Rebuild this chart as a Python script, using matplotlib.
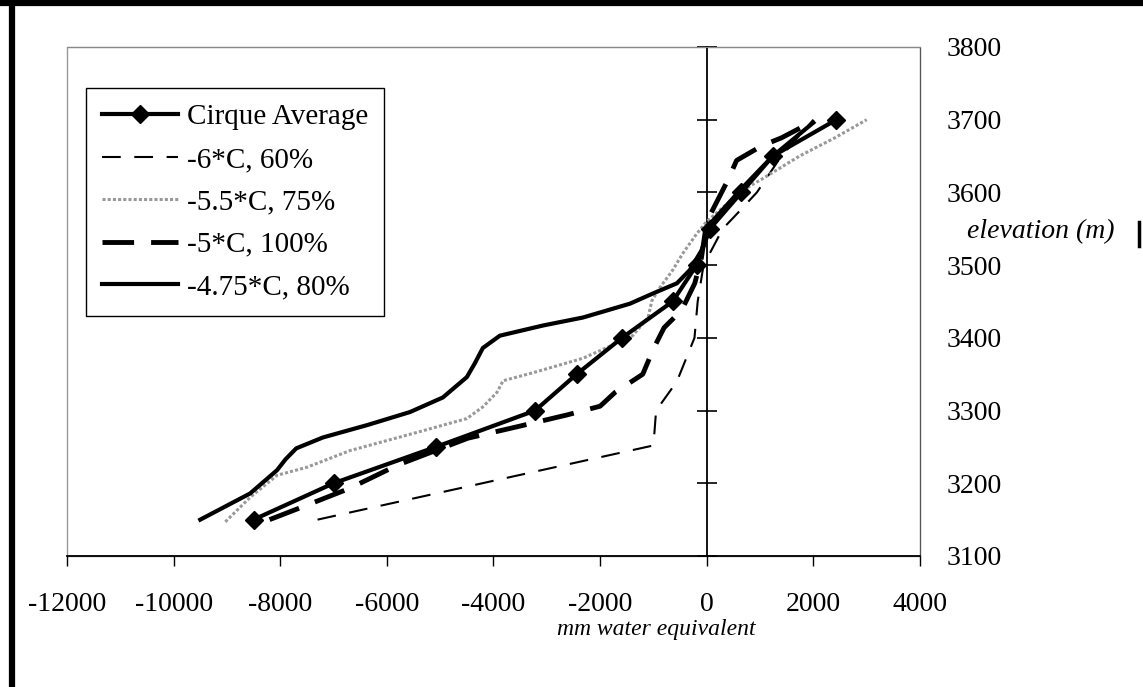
import matplotlib.pyplot as plt
from matplotlib.lines import Line2D

plt.rcParams['font.family'] = ['Liberation Serif', 'DejaVu Serif']

# Cirque average (elevation bands every 50 m)
cirque_y = [3150, 3200, 3250, 3300, 3350, 3400, 3450, 3500, 3550, 3600, 3650, 3700]
cirque_x = [-8500, -7000, -5080, -3220, -2440, -1590, -640, -190, 60, 650, 1240, 2430]

# -6*C, 60%
m6_x = [-7300, -1000, -950, -560, -450, -230, -170, -60, 300, 560, 940, 1400, 2000]
m6_y = [3150, 3252, 3300, 3340, 3360, 3400, 3450, 3500, 3550, 3570, 3600, 3650, 3700]

# -5.5*C, 75%
m55_x = [-9030, -8560, -8060, -7500, -6690, -5435, -4500, -4200, -3935, -3820, -3260,
         -2320, -1800, -1390, -1100, -1030, -880, -640, -450, -190, 0, 675, 1050, 1740,
         2400, 3000]
m55_y = [3147, 3181, 3211, 3222, 3245, 3270, 3289, 3305, 3325, 3341, 3352,
         3372, 3389, 3403, 3428, 3451, 3469, 3493, 3516, 3543, 3560, 3603, 3619, 3650,
         3675, 3700]

# -5*C, 100%
m5_x = [-8200, -7600, -6700, -5800, -4480, -3540, -2620, -2000, -1720, -1200, -1000,
        -800, -470, -225, -100, 0, 390, 560, 1030, 1400, 2000]
m5_y = [3150, 3167, 3193, 3225, 3262, 3278, 3294, 3306, 3325, 3350, 3385,
        3414, 3438, 3475, 3510, 3560, 3616, 3644, 3664, 3675, 3698]

# -4.75*C, 80%
m475_x = [-9500, -8565, -8060, -7900, -7700, -7200, -6370, -5565, -4950, -4500, -4350,
          -4200, -3880, -3070, -2320, -1440, -1010, -560, -320, -100, 100, 650, 1240, 2000]
m475_y = [3150, 3186, 3218, 3233, 3248, 3263, 3280, 3298, 3318, 3346, 3365,
          3386, 3403, 3417, 3428, 3447, 3461, 3475, 3493, 3520, 3560, 3605, 3650, 3696]

x_ticks = [-12000, -10000, -8000, -6000, -4000, -2000, 0, 2000, 4000]
y_ticks = [3100, 3200, 3300, 3400, 3500, 3600, 3700, 3800]

fig = plt.figure(figsize=(11.43, 6.87), dpi=100)
ax = fig.add_axes([0.0586, 0.1907, 0.7463, 0.7409])

l1, = ax.plot(cirque_x, cirque_y, color="black", linewidth=3, marker="D",
              markersize=9, zorder=6, label="Cirque Average")
l2, = ax.plot(m6_x, m6_y, color="black", linewidth=1.5, dashes=(9, 6.5),
              zorder=3, label="-6*C, 60%")
l3, = ax.plot(m55_x, m55_y, color="#999999", linewidth=2.2, linestyle=(0, (1, 0.7)),
              zorder=3, label="-5.5*C, 75%")
l4, = ax.plot(m5_x, m5_y, color="black", linewidth=3.5, dashes=(6.5, 3.5),
              zorder=4, label="-5*C, 100%")
l5, = ax.plot(m475_x, m475_y, color="black", linewidth=3, zorder=4,
              label="-4.75*C, 80%")

ax.set_xlim(-12000, 4000)
ax.set_ylim(3100, 3800)
ax.set_xticks(x_ticks)
ax.set_yticks(y_ticks)
ax.set_xticklabels([str(v) for v in x_ticks])

# vertical axis crosses at x = 0, labels on the right
ax.spines['left'].set_position(('data', 0))
ax.spines['left'].set_color("black")
ax.spines['left'].set_linewidth(1.3)
ax.spines['right'].set_color("#555555")
ax.spines['top'].set_color("#888888")
ax.spines['bottom'].set_color("black")
ax.spines['bottom'].set_linewidth(1.3)
ax.patch.set_edgecolor("#999999")
ax.patch.set_linewidth(1)

ax.tick_params(axis='y', left=True, right=False, labelleft=False, labelright=True,
               direction='inout', length=14, width=1.2, pad=12, labelsize=20)
ax.tick_params(axis='x', direction='out', length=7, width=1, pad=19, labelsize=20)

fig.text(557 / 1143, 1 - 630 / 687, "mm water equivalent", fontsize=17,
         style="italic", ha="left", va="center")
fig.text(1041 / 1143, 1 - 232 / 687, "elevation (m)", fontsize=20,
         style="italic", ha="center", va="center")

leg = ax.legend(handles=[l1, l2, l3, l4, l5], loc="upper left",
                bbox_to_anchor=(0.0223, 0.9194), borderaxespad=0, fontsize=21,
                frameon=True, fancybox=False, edgecolor="black", framealpha=1,
                handlelength=2.6, handletextpad=0.3, labelspacing=0.55,
                borderpad=0.55)
leg.get_frame().set_linewidth(1)

# thick scan frame on top and left edges, plus the stray mark on the right edge
fig.add_artist(Line2D([0, 1], [1 - 3 / 687, 1 - 3 / 687], color="black",
                      linewidth=4.5, transform=fig.transFigure))
fig.add_artist(Line2D([12 / 1143, 12 / 1143], [0, 1], color="black",
                      linewidth=4.5, transform=fig.transFigure))
fig.add_artist(Line2D([1139 / 1143, 1139 / 1143], [1 - 222 / 687, 1 - 246 / 687],
                      color="black", linewidth=2.5, transform=fig.transFigure))

plt.savefig("out.png", dpi=100)
